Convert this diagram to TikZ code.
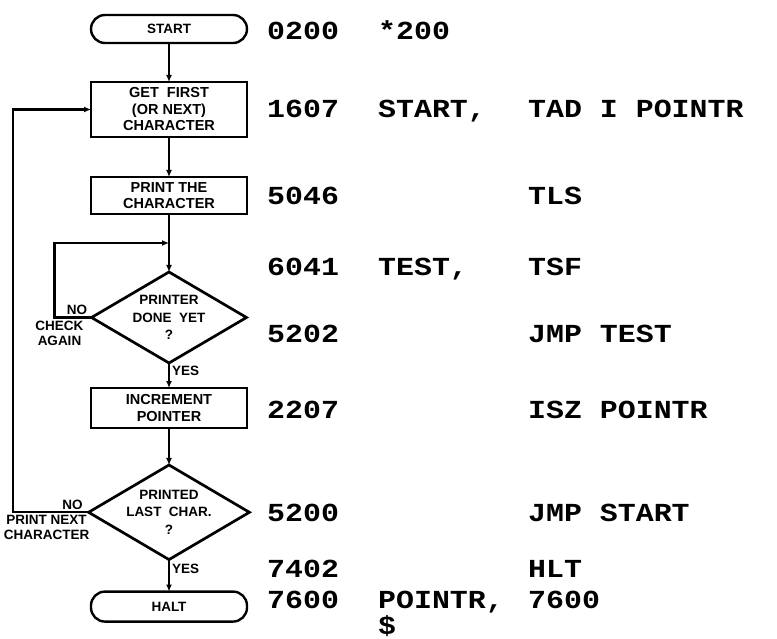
\documentclass[tikz,border=0pt]{standalone}
\usepackage{fontspec}
\setmainfont{Liberation Sans}
\newfontfamily\listfont[FakeStretch=1.15]{Liberation Mono}
\usetikzlibrary{positioning,calc,arrows.meta,shapes.geometric}
\newcommand{\flowfont}{\bfseries\fontsize{14.5}{16.5}\selectfont}

\begin{document}
\begin{tikzpicture}[
  x=1pt, y=-1pt,
  term/.style={draw, line width=2.4pt, rounded corners=14pt, minimum width=156pt, outer sep=0pt,
               minimum height=28pt, inner sep=0pt, font=\bfseries\fontsize{13.5}{14}\selectfont},
  box/.style={draw, line width=2.4pt, minimum width=156pt, align=center, outer sep=0pt,
              inner sep=0pt, font=\flowfont},
  test/.style={draw, diamond, aspect=1.7, line width=2.7pt, minimum width=155pt, outer sep=0pt,
               minimum height=91pt, inner sep=0pt, align=center,
               font=\bfseries\fontsize{13.5}{17.5}\selectfont},
  lbl/.style={font=\bfseries\fontsize{13.5}{15}\selectfont, inner sep=2pt, align=center},
  code/.style={font=\listfont\bfseries\fontsize{26}{26}\selectfont, anchor=base west, inner sep=0pt},
  arr/.style={-{Latex[length=7pt,width=6pt]}, line width=2.1pt}
]
  \useasboundingbox (0,0) rectangle (777,639);

  % Flowchart
  \node[term] (start) at (169,29) {START};
  \node[box, minimum height=55pt, below=39pt of start] (get) {GET \ FIRST\\(OR NEXT)\\CHARACTER};
  \node[box, minimum height=37pt, below=40pt of get] (print) {PRINT THE\\CHARACTER};
  \node[test, below=58pt of print] (done) {PRINTER\\DONE \ YET\\?};
  \node[box, minimum height=40pt, below=25pt of done] (incr) {INCREMENT\\POINTER};
  \node[test, minimum height=85pt, below=37pt of incr] (last) {PRINTED\\LAST \ CHAR.\\?};
  \node[term, minimum height=30pt, below=32pt of last] (halt) {HALT};

  \coordinate[below=29pt of print] (join);
  \coordinate (loopA) at ($(done.west)+(-37,0)$);
  \coordinate (loopB) at ($(last.west)+(-76,0)$);

  \draw[arr] (start) -- (get);
  \draw[arr] (get) -- (print);
  \draw[arr] (print) -- (done);
  \draw[arr] (done) -- node[lbl, right, pos=0.3]{YES} (incr);
  \draw[arr] (incr) -- (last);
  \draw[arr] (last) -- node[lbl, right, pos=0.3]{YES} (halt);

  % Loops back
  \draw[arr] (done.west) -- node[lbl, above, xshift=4pt]{NO} (loopA) |- (join);
  \node[lbl, below=1pt of loopA, xshift=5pt] (again) {CHECK\\AGAIN};
  \draw[arr] (last.west) -- node[lbl, above, xshift=22pt]{NO}
    node[lbl, below, xshift=-4pt] (next) {PRINT NEXT\\CHARACTER} (loopB) |- (get.west);

  % Listing
  \foreach \yb/\addr/\tag/\instr [count=\i] in {40/0200/{*200}/, 118/1607/{START,}/{TAD I POINTR},
      205/5046//TLS, 276/6041/{TEST,}/TSF, 342/5202//{JMP TEST}, 418/2207//{ISZ POINTR},
      521/5200//{JMP START}, 577/7402//HLT, 608/7600/{POINTR,}/7600}{
    \node[code] (addr\i) at (267,\yb) {\addr};
    \node[code] (tag\i) at (378,\yb) {\tag};
    \node[code] (instr\i) at (528,\yb) {\instr};
  }
  \node[code] (eof) at (378,634) {\$};
\end{tikzpicture}
\end{document}
